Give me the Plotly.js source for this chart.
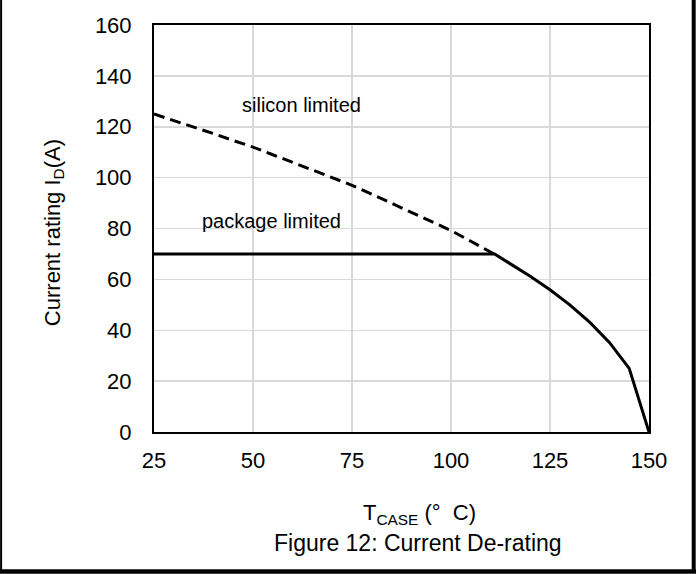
<!DOCTYPE html>
<html>
<head>
<meta charset="utf-8">
<script src="https://cdn.plot.ly/plotly-3.0.1.min.js"></script>
<style>html,body{margin:0;padding:0;background:#fff;}#chart{width:696px;height:574px;}</style>
</head>
<body>
<div id="chart"></div>
<script>
// Data
var siliconT = [25, 30, 35, 40, 45, 50, 55, 60, 65, 70, 75, 80, 85, 90, 95, 100, 105, 110, 112];
var siliconI = [125, 122.5, 120, 117.3, 114.6, 112, 109, 106, 103, 100, 97, 93.5, 90, 86.5, 83, 79.2, 75, 70.6, 69];
var packageT = [25, 111, 115, 120, 125, 130, 135, 140, 145, 150];
var packageI = [70, 70, 66.1, 61.2, 55.9, 50, 43.2, 35.2, 25, 0];
var xTicks = [25, 50, 75, 100, 125, 150];
var yTicks = [0, 20, 40, 60, 80, 100, 120, 140, 160];
var labelSilicon = "silicon limited";
var labelPackage = "package limited";
var xTitle = "T<sub>CASE</sub> (°\u00a0\u00a0C)";
var yTitle = "Current rating I<sub>D</sub>(A)";
var caption = "Figure 12: Current De-rating";

var FONT = "Liberation Sans, Arial, sans-serif";

var traces = [
  {x: siliconT, y: siliconI, mode: "lines", type: "scatter",
   line: {color: "#000", width: 3, dash: "11px,6px"}, hoverinfo: "skip"},
  {x: packageT, y: packageI, mode: "lines", type: "scatter",
   line: {color: "#000", width: 3}, hoverinfo: "skip"}
];

var layout = {
  width: 696, height: 574,
  margin: {l: 154, r: 47, t: 25, b: 142},
  paper_bgcolor: "#fff", plot_bgcolor: "#fff",
  showlegend: false,
  font: {family: FONT, color: "#000", size: 22},
  xaxis: {
    range: [25, 150], tickvals: xTicks, ticktext: xTicks.map(String),
    showgrid: true, gridcolor: "#d9d9d9", gridwidth: 1.5,
    showline: true, linecolor: "#000", linewidth: 2, mirror: true,
    zeroline: false, ticks: "", ticklabelstandoff: 8,
    tickfont: {family: FONT, size: 22, color: "#000"}
  },
  yaxis: {
    range: [0, 160], tickvals: yTicks, ticktext: yTicks.map(String),
    showgrid: true, gridcolor: "#d9d9d9", gridwidth: 1.5,
    showline: true, linecolor: "#000", linewidth: 2, mirror: true,
    zeroline: false, ticks: "", ticklabelstandoff: 16,
    tickfont: {family: FONT, size: 22, color: "#000"}
  },
  annotations: [
    {text: labelSilicon, x: 46.7, y: 128.5, xref: "x", yref: "y", xanchor: "left", yanchor: "middle",
     showarrow: false, font: {family: FONT, size: 20, color: "#000"}},
    {text: labelPackage, x: 36.6, y: 82.9, xref: "x", yref: "y", xanchor: "left", yanchor: "middle",
     showarrow: false, font: {family: FONT, size: 20, color: "#000"}},
    {text: yTitle, x: -0.202, y: 0.4886, xref: "paper", yref: "paper", textangle: -90,
     xanchor: "center", yanchor: "middle", showarrow: false, font: {family: FONT, size: 22, color: "#000"}},
    {text: xTitle, x: 0.537, y: -0.2013, xref: "paper", yref: "paper",
     xanchor: "center", yanchor: "middle", showarrow: false, font: {family: FONT, size: 22, color: "#000"}},
    {text: caption, x: 0.533, y: -0.2725, xref: "paper", yref: "paper",
     xanchor: "center", yanchor: "middle", showarrow: false, font: {family: FONT, size: 23, color: "#000"}}
  ],
  shapes: [
    {type: "line", xref: "paper", yref: "paper", x0: -0.3089, x1: -0.3089, y0: -0.345, y1: 1.1,
     line: {color: "#000", width: 2}},
    {type: "line", xref: "paper", yref: "paper", x0: 1.0903, x1: 1.0903, y0: -0.345, y1: 1.1,
     line: {color: "#000", width: 4}},
    {type: "line", xref: "paper", yref: "paper", x0: -0.32, x1: 1.1, y0: -0.343, y1: -0.343,
     line: {color: "#000", width: 4.5}}
  ]
};

Plotly.newPlot("chart", traces, layout, {staticPlot: true, displayModeBar: false});
</script>
</body>
</html>
